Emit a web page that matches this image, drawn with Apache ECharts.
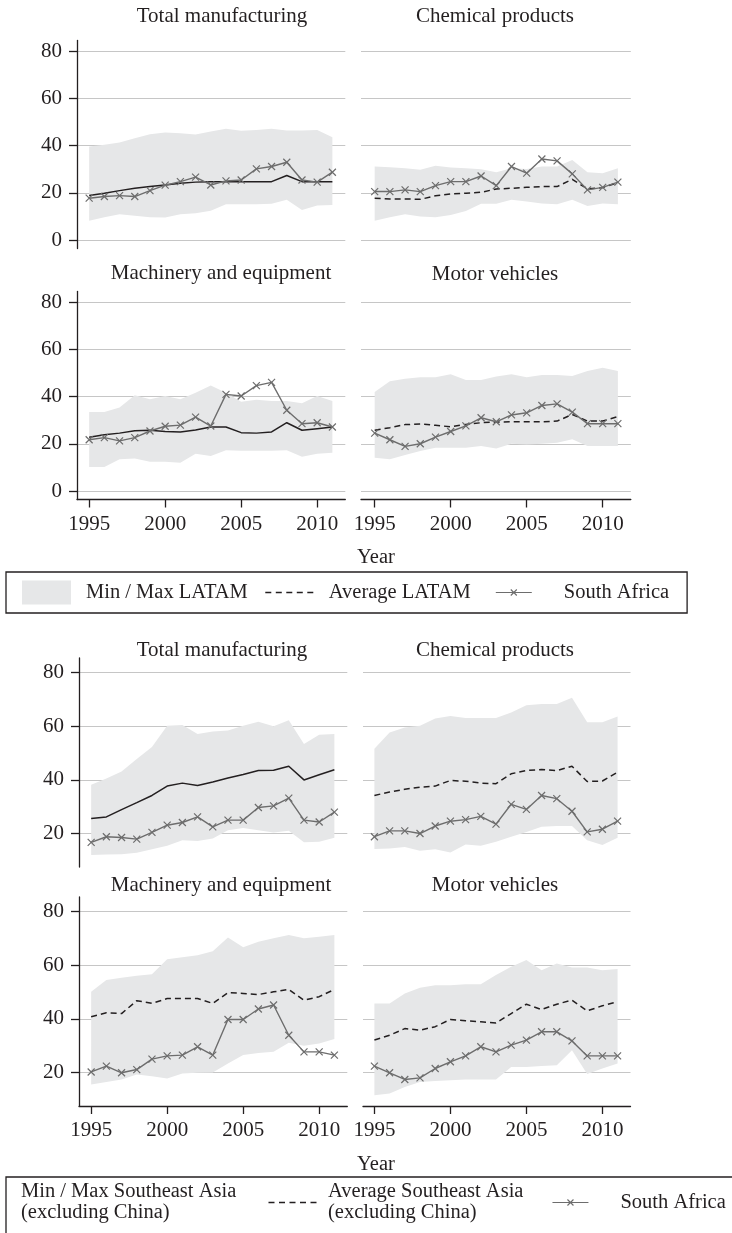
<!DOCTYPE html>
<html>
<head>
<meta charset="utf-8">
<title>South Africa vs LATAM / Southeast Asia</title>
<style>
    html, body { margin: 0; padding: 0; background: #fff; }
    #main { width: 732px; height: 1233px; }
</style>
</head>
<body>
<div id="main"></div>
<script src="https://cdn.jsdelivr.net/npm/echarts@6.0.0/dist/echarts.min.js"></script>
<script type="text/javascript">
    var years = [1995, 1996, 1997, 1998, 1999, 2000, 2001, 2002, 2003, 2004, 2005, 2006, 2007, 2008, 2009, 2010, 2011];
    var xTicks = [1995, 2000, 2005, 2010];
    var yTicksTop = [0, 20, 40, 60, 80];
    var yTicksBottom = [20, 40, 60, 80];
    var panelTitles = ['Total manufacturing', 'Chemical products', 'Machinery and equipment', 'Motor vehicles'];

    // figure 1: LATAM
    var latTotalMin = [8.2, 9.6, 10.9, 10.3, 9.6, 9.5, 10.9, 11.3, 12.4, 15.1, 15.1, 15.1, 15.3, 17.0, 12.7, 14.6, 14.8];
    var latTotalMax = [39.6, 40.3, 41.3, 43.1, 44.8, 45.5, 45.2, 44.7, 45.9, 47.1, 46.2, 46.6, 47.1, 46.4, 46.4, 46.6, 43.5];
    var latTotalAvg = [18.8, 19.8, 20.9, 21.9, 22.6, 23.3, 24.0, 24.5, 24.7, 24.7, 24.7, 24.7, 24.7, 27.3, 24.7, 24.7, 24.7];
    var saTotalA = [17.7, 18.4, 18.8, 18.4, 20.9, 23.2, 24.7, 26.6, 23.3, 25.0, 25.4, 30.1, 31.1, 32.9, 25.4, 24.5, 28.7];

    var latChemMin = [8.2, 9.6, 10.9, 9.9, 9.6, 10.6, 12.3, 15.3, 15.3, 17.0, 16.3, 15.5, 15.1, 17.0, 14.4, 15.5, 15.1];
    var latChemMax = [31.1, 30.8, 30.4, 29.7, 31.4, 30.7, 30.4, 30.0, 28.7, 30.4, 30.1, 31.1, 31.1, 33.9, 28.7, 28.3, 30.4];
    var latChemAvg = [17.7, 17.4, 17.4, 17.2, 18.7, 19.5, 19.8, 20.2, 21.6, 21.9, 22.3, 22.6, 22.6, 25.7, 21.6, 22.2, 24.3];
    var saChemA = [20.5, 20.5, 21.2, 20.5, 23.0, 24.7, 24.7, 27.1, 23.0, 31.1, 28.3, 34.3, 33.5, 28.0, 21.2, 22.3, 24.5];

    var latMachMin = [10.2, 10.2, 13.4, 13.8, 12.4, 12.4, 12.0, 15.8, 14.8, 17.3, 17.0, 17.0, 17.0, 17.3, 14.5, 15.8, 16.2];
    var latMachMax = [33.4, 33.4, 35.3, 40.5, 38.8, 40.2, 38.8, 41.6, 44.7, 41.6, 37.8, 38.6, 38.1, 38.1, 37.1, 40.2, 38.1];
    var latMachAvg = [22.8, 23.8, 24.5, 25.5, 25.7, 25.2, 25.0, 25.8, 27.1, 27.1, 24.7, 24.5, 25.0, 28.9, 25.7, 26.4, 27.1];
    var saMachA = [21.7, 22.6, 21.2, 22.6, 25.4, 27.4, 27.9, 31.3, 27.5, 40.9, 40.2, 44.6, 46.0, 34.2, 28.5, 28.9, 27.1];

    var latMotorMin = [14.1, 13.4, 15.2, 16.9, 18.3, 18.3, 18.3, 19.0, 18.0, 20.0, 19.7, 20.0, 20.4, 21.9, 19.0, 19.0, 19.0];
    var latMotorMax = [41.9, 46.5, 47.5, 48.2, 48.2, 49.4, 47.0, 47.0, 48.5, 49.4, 48.2, 49.1, 49.1, 48.7, 50.8, 52.2, 50.8];
    var latMotorAvg = [25.7, 26.8, 28.1, 28.4, 27.8, 27.2, 28.2, 28.9, 29.2, 29.3, 29.3, 29.3, 29.6, 32.4, 29.6, 29.6, 31.5];
    var saMotorA = [24.5, 21.7, 18.9, 20.0, 22.8, 25.2, 27.6, 31.0, 29.3, 32.2, 33.1, 36.2, 36.9, 33.4, 28.5, 28.5, 28.5];

    // figure 2: Southeast Asia (excluding China)
    var seaTotalMin = [12.0, 12.2, 12.3, 12.8, 14.1, 15.4, 17.5, 17.2, 18.1, 21.2, 22.1, 21.2, 20.4, 21.0, 16.7, 16.9, 18.4];
    var seaTotalMax = [38.2, 40.5, 43.1, 47.8, 52.3, 60.2, 60.5, 57.1, 58.1, 58.4, 60.2, 61.7, 60.0, 62.3, 53.4, 56.9, 57.1];
    var seaTotalAvg = [25.6, 26.2, 28.9, 31.5, 34.2, 37.7, 38.8, 37.9, 39.2, 40.7, 42.0, 43.5, 43.6, 45.1, 40.0, 41.9, 43.8];
    var saTotalB = [16.7, 18.8, 18.5, 17.9, 20.4, 23.1, 24.1, 26.2, 22.5, 25.0, 25.0, 29.7, 30.3, 33.2, 25.0, 24.3, 28.0];

    var seaChemMin = [14.2, 14.4, 15.0, 13.6, 14.1, 12.9, 15.9, 15.4, 16.9, 18.8, 20.6, 22.5, 22.8, 22.8, 17.5, 15.7, 18.4];
    var seaChemMax = [51.6, 57.7, 59.6, 60.2, 62.9, 63.9, 63.1, 63.1, 63.1, 65.2, 67.9, 68.3, 68.3, 70.7, 61.5, 61.5, 63.7];
    var seaChemAvg = [34.2, 35.5, 36.5, 37.3, 37.7, 39.8, 39.5, 38.8, 38.6, 42.3, 43.5, 43.9, 43.5, 45.1, 39.4, 39.6, 42.9];
    var saChemB = [18.8, 21.0, 21.0, 20.0, 22.8, 24.6, 25.2, 26.4, 23.5, 30.9, 29.0, 34.2, 33.0, 28.3, 20.6, 21.6, 24.6];

    var seaMachMin = [15.5, 16.5, 17.4, 19.3, 18.6, 17.8, 19.6, 19.9, 20.0, 23.4, 26.5, 27.3, 27.7, 31.1, 30.0, 30.8, 32.5];
    var seaMachMax = [50.1, 54.5, 55.4, 56.1, 56.7, 62.3, 63.0, 63.8, 65.3, 70.4, 66.7, 68.8, 70.1, 71.3, 70.1, 70.7, 71.3];
    var seaMachAvg = [40.8, 42.3, 42.0, 46.8, 45.8, 47.6, 47.6, 47.6, 45.8, 49.8, 49.5, 49.1, 50.1, 51.0, 47.0, 48.3, 51.0];
    var saMachB = [20.2, 22.4, 19.9, 21.1, 25.0, 26.2, 26.5, 29.6, 26.5, 39.8, 39.8, 43.7, 45.2, 33.9, 27.7, 27.7, 26.5];

    var seaMotorMin = [11.5, 12.2, 14.6, 16.5, 16.8, 17.1, 17.4, 17.4, 17.4, 22.1, 22.1, 22.4, 22.7, 28.3, 19.4, 21.5, 23.4];
    var seaMotorMax = [45.8, 45.8, 49.5, 51.6, 52.6, 52.6, 52.9, 52.9, 56.4, 59.5, 62.0, 58.2, 60.7, 59.2, 59.2, 58.2, 58.6];
    var seaMotorAvg = [32.1, 33.9, 36.4, 35.8, 37.1, 39.8, 39.3, 38.9, 38.5, 42.0, 45.5, 43.5, 45.5, 47.0, 43.0, 44.9, 46.4];
    var saMotorB = [22.4, 19.9, 17.4, 18.0, 21.5, 24.0, 26.2, 29.6, 27.7, 30.2, 32.1, 35.2, 35.2, 31.8, 26.2, 26.2, 26.2];

    var BAND = '#e6e7e8';
    var AVG = '#231f20';
    var SA = '#6d6d6d';
    var INK = '#231f20';
    var GRIDLINE = '#c6c6c6';
    var FONT = '"Liberation Serif", "Times New Roman", serif';

    var xMark = 'path://M0,0L10,10M10,0L0,10';
    // legend icons, drawn in a 49x24 frame (tiny corner squares fix the frame size)
    var iconDash = 'path://M0,0h0.01v0.01h-0.01z M48.99,23.99h0.01v0.01h-0.01z' +
        ' M0.5,11.35h6v1.3h-6z M11,11.35h6v1.3h-6z M21.5,11.35h6v1.3h-6z M32,11.35h6v1.3h-6z M42.5,11.35h6v1.3h-6z';
    var iconSA = 'path://M0,0h0.01v0.01h-0.01z M48.99,23.99h0.01v0.01h-0.01z' +
        ' M8,11.4L44,11.4L44,12.6L8,12.6Z' +
        ' M23.4,8.6L29.4,14.6L28.6,15.4L22.6,9.4Z' +
        ' M28.6,8.6L29.4,9.4L23.4,15.4L22.6,14.6Z';

    var panels = [
        // LATAM
        {grid: {left: 77, top: 40.4, width: 268.3, height: 208.1}, xmin: 1994.2, y: [-3.6, 84.5], ticks: yTicksTop, yAxisShow: true, xAxisShow: false,
            min: latTotalMin, max: latTotalMax, avg: latTotalAvg, sa: saTotalA, dashed: false, fig: 0},
        {grid: {left: 361, top: 40.4, width: 269.8, height: 208.1}, xmin: 1994.1, y: [-3.6, 84.5], ticks: yTicksTop, yAxisShow: false, xAxisShow: false,
            min: latChemMin, max: latChemMax, avg: latChemAvg, sa: saChemA, dashed: true, fig: 0},
        {grid: {left: 77, top: 291.4, width: 268.3, height: 208.1}, xmin: 1994.2, y: [-3.6, 84.5], ticks: yTicksTop, yAxisShow: true, xAxisShow: true,
            min: latMachMin, max: latMachMax, avg: latMachAvg, sa: saMachA, dashed: false, fig: 0},
        {grid: {left: 361, top: 291.4, width: 269.8, height: 208.1}, xmin: 1994.1, y: [-3.6, 84.5], ticks: yTicksTop, yAxisShow: false, xAxisShow: true,
            min: latMotorMin, max: latMotorMax, avg: latMotorAvg, sa: saMotorA, dashed: true, fig: 0},
        // Southeast Asia
        {grid: {left: 79, top: 658, width: 268.3, height: 209}, xmin: 1994.2, y: [7.5, 85.5], ticks: yTicksBottom, yAxisShow: true, xAxisShow: false,
            min: seaTotalMin, max: seaTotalMax, avg: seaTotalAvg, sa: saTotalB, dashed: false, fig: 1},
        {grid: {left: 363, top: 658, width: 267.5, height: 209}, xmin: 1994.25, y: [7.5, 85.5], ticks: yTicksBottom, yAxisShow: false, xAxisShow: false,
            min: seaChemMin, max: seaChemMax, avg: seaChemAvg, sa: saChemB, dashed: true, fig: 1},
        {grid: {left: 79, top: 897, width: 268.3, height: 209}, xmin: 1994.2, y: [7.5, 85.5], ticks: yTicksBottom, yAxisShow: true, xAxisShow: true,
            min: seaMachMin, max: seaMachMax, avg: seaMachAvg, sa: saMachB, dashed: true, fig: 1},
        {grid: {left: 363, top: 897, width: 267.5, height: 209}, xmin: 1994.25, y: [7.5, 85.5], ticks: yTicksBottom, yAxisShow: false, xAxisShow: true,
            min: seaMotorMin, max: seaMotorMax, avg: seaMotorAvg, sa: saMotorB, dashed: true, fig: 1}
    ];

    var bandNames = ['Min / Max LATAM', 'Min / Max Southeast Asia (excluding China)'];
    var avgNames = ['Average LATAM', 'Average Southeast Asia (excluding China)'];

    var titlePos = [[222, 16], [495, 16], [221, 273], [495, 274], [222, 650], [495, 650], [221, 885], [495, 885]];

    function pairs(arr) {
        return years.map(function (y, i) { return [y, arr[i]]; });
    }

    // min/max band: one polygon drawn from all rows through the grid's coord system
    function renderBand(params, api) {
        if (params.dataIndexInside !== 0) return null;
        var n = params.dataInsideLength, upper = [], lower = [];
        for (var k = 0; k < n; k++) {
            upper.push(api.coord([api.value(0, k), api.value(2, k)]));
            lower.unshift(api.coord([api.value(0, k), api.value(1, k)]));
        }
        return {
            type: 'polygon', silent: true,
            shape: {points: upper.concat(lower)},
            style: {fill: BAND}
        };
    }

    var grids = [], xAxes = [], yAxes = [], series = [], titles = [];
    var labelStyle = {fontFamily: FONT, fontSize: 21, color: INK};

    panels.forEach(function (p, i) {
        grids.push(p.grid);
        xAxes.push({
            type: 'value', gridIndex: i, min: p.xmin, max: 2011.85,
            axisLine: {show: p.xAxisShow, onZero: false, lineStyle: {color: INK, width: 1.3}},
            axisTick: {show: p.xAxisShow, length: 8, lineStyle: {color: INK, width: 1.3}, customValues: xTicks},
            axisLabel: Object.assign({show: p.xAxisShow, margin: 14, customValues: xTicks,
                formatter: function (v) { return String(v); }}, labelStyle),
            splitLine: {show: false}
        });
        yAxes.push({
            type: 'value', gridIndex: i, min: p.y[0], max: p.y[1],
            axisLine: {show: p.yAxisShow, onZero: false, lineStyle: {color: INK, width: 1.3}},
            axisTick: {show: p.yAxisShow, length: 8, lineStyle: {color: INK, width: 1.3}, customValues: p.ticks},
            axisLabel: Object.assign({show: p.yAxisShow, margin: 15, customValues: p.ticks}, labelStyle),
            splitLine: {show: true, lineStyle: {color: GRIDLINE, width: 1.2}}
        });

        series.push({
            type: 'custom', name: bandNames[p.fig], xAxisIndex: i, yAxisIndex: i,
            data: years.map(function (y, k) { return [y, p.min[k], p.max[k]]; }),
            encode: {x: 0, y: [1, 2]},
            renderItem: renderBand, silent: true,
            itemStyle: {color: BAND}
        });
        series.push({
            type: 'line', name: avgNames[p.fig], xAxisIndex: i, yAxisIndex: i,
            data: pairs(p.avg), symbol: 'none', silent: true, color: AVG,
            lineStyle: {color: AVG, width: 1.5, type: p.dashed ? [6, 4] : 'solid'}
        });
        series.push({
            type: 'line', name: 'South Africa', xAxisIndex: i, yAxisIndex: i,
            data: pairs(p.sa), symbol: xMark, symbolSize: 7, silent: true, color: SA,
            lineStyle: {color: SA, width: 1.4},
            itemStyle: {color: SA, borderColor: SA, borderWidth: 1.2}
        });

        titles.push({
            text: panelTitles[i % 4], left: titlePos[i][0], top: titlePos[i][1] - 11,
            textAlign: 'center', padding: 0,
            textStyle: {fontFamily: FONT, fontSize: 21, fontWeight: 'normal', color: INK, lineHeight: 22}
        });
    });

    [[376, 558], [376, 1165]].forEach(function (pos) {
        titles.push({
            text: 'Year', left: pos[0], top: pos[1] - 11, textAlign: 'center', padding: 0,
            textStyle: {fontFamily: FONT, fontSize: 20.5, fontWeight: 'normal', color: INK, lineHeight: 22}
        });
    });

    var twoLines = function (name) { return name.replace(' (', '\n('); };

    var myChart = echarts.init(document.getElementById('main'));
    myChart.setOption({
        animation: false,
        backgroundColor: '#fff',
        title: titles,
        grid: grids,
        xAxis: xAxes,
        yAxis: yAxes,
        legend: [
            {
                left: 6, top: 572, orient: 'horizontal', selectedMode: false,
                padding: [8.5, 18, 8.5, 16], itemGap: 17, itemWidth: 49, itemHeight: 24,
                borderColor: INK, borderWidth: 1.3,
                itemStyle: {borderWidth: 0},
                textStyle: {fontFamily: FONT, fontSize: 20.5, color: INK, lineHeight: 21, padding: [0, 0, 0, 10]},
                data: [
                    {name: bandNames[0], icon: 'rect'},
                    {name: avgNames[0], icon: iconDash},
                    {name: 'South Africa', icon: iconSA, textStyle: {padding: [0, 0, 0, 22]}}
                ]
            },
            {
                left: 16, top: 1181.5, orient: 'horizontal', selectedMode: false,
                padding: 0, itemWidth: 0, itemHeight: 24,
                itemStyle: {borderWidth: 0},
                textStyle: {fontFamily: FONT, fontSize: 20.5, color: INK, lineHeight: 21},
                formatter: twoLines,
                data: [{name: bandNames[1], icon: 'none'}]
            },
            {
                left: 268, top: 1181.5, orient: 'horizontal', selectedMode: false,
                padding: 0, itemGap: 21, itemWidth: 49, itemHeight: 24,
                itemStyle: {borderWidth: 0},
                textStyle: {fontFamily: FONT, fontSize: 20.5, color: INK, lineHeight: 21, padding: [0, 0, 0, 6]},
                formatter: twoLines,
                data: [
                    {name: avgNames[1], icon: iconDash},
                    {name: 'South Africa', icon: iconSA, textStyle: {padding: [0, 0, 0, 22]}}
                ]
            }
        ],
        graphic: [{
            type: 'rect', silent: true,
            shape: {x: 6, y: 1177, width: 780, height: 90},
            style: {fill: 'none', stroke: INK, lineWidth: 1.3}
        }],
        series: series
    });
</script>
</body>
</html>
